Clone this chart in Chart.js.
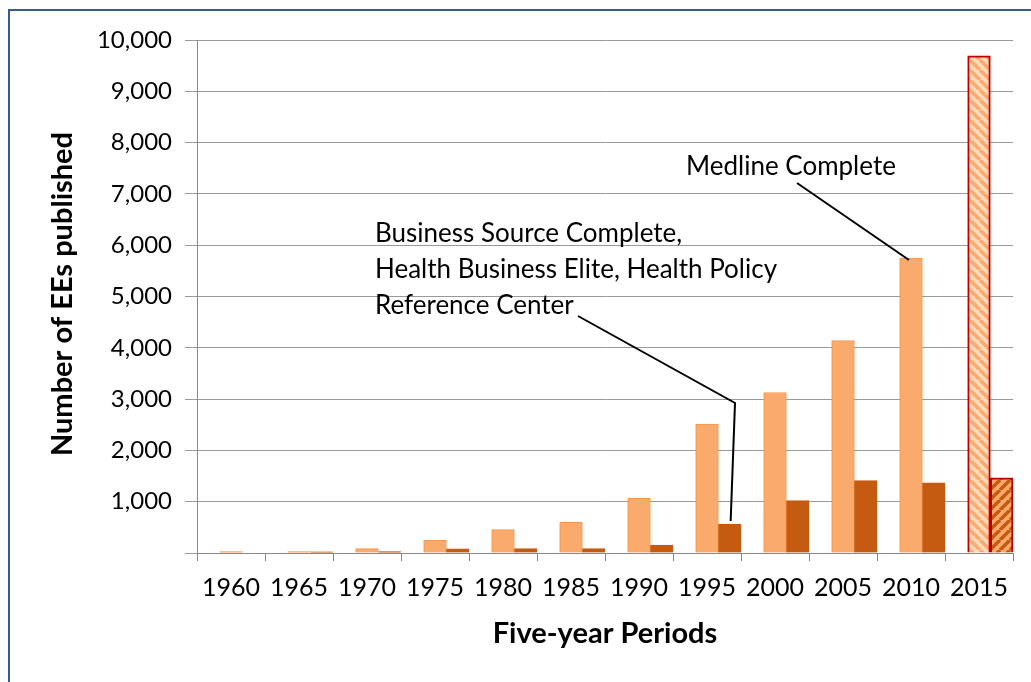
<!DOCTYPE html>
<html>
<head>
<meta charset="utf-8">
<script src="https://cdn.jsdelivr.net/npm/chart.js@4.4.0/dist/chart.umd.min.js"></script>
<style>
    html, body { margin: 0; padding: 0; background: #fff; overflow: hidden; }
    #wrap { position: relative; width: 1031px; height: 682px; }
    #frame { position: absolute; left: 8px; top: 9px; width: 1100px; height: 760px; border: 2px solid #385d8a; box-sizing: border-box; }
    canvas { position: absolute; left: 0; top: 0; }
</style>
</head>
<body>
<div id="wrap">
    <div id="frame"></div>
    <canvas id="chart" width="1031" height="682"></canvas>
</div>
<script>
// dados
const periods = ['1960', '1965', '1970', '1975', '1980', '1985', '1990', '1995', '2000', '2005', '2010', '2015'];
const medlineCounts = [27, 27, 86, 248, 456, 598, 1066, 2513, 3129, 4140, 5750, 9690];
const businessCounts = [0, 25, 27, 80, 86, 86, 156, 565, 1020, 1410, 1367, 1467];
const yTicks = [0, 1000, 2000, 3000, 4000, 5000, 6000, 7000, 8000, 9000, 10000];

const yTitle = 'Number of EEs published';
const xTitle = 'Five-year Periods';
const medlineNote = ['Medline Complete'];
const businessNote = ['Business Source Complete,', 'Health Business Elite, Health Policy', 'Reference Center'];

const LIGHT = '#fbaa6e';
const LIGHT_EDGE = '#f79646';
const DARK = '#c55a11';
const RED = '#c00000';
const FONT = 'Lato, "Open Sans", sans-serif';

// padrão hachurado para a última coluna (2015)
function makeHatch(bg, fg, downward) {
    const size = 10;
    const c = document.createElement('canvas');
    c.width = size;
    c.height = size;
    const g = c.getContext('2d');
    g.fillStyle = bg;
    g.fillRect(0, 0, size, size);
    g.strokeStyle = fg;
    g.lineWidth = 3.5;
    g.beginPath();
    for (let k = -1; k <= 1; k++) {
        if (downward) {
            g.moveTo(k * size, 0);
            g.lineTo(k * size + size, size);
        } else {
            g.moveTo(k * size, size);
            g.lineTo(k * size + size, 0);
        }
    }
    g.stroke();
    return g.createPattern(c, 'repeat');
}

const lightHatch = makeHatch('#fcd9bb', '#fbaa6e', true);
const darkHatch = makeHatch('#fbaa6e', DARK, false);

const last = periods.length - 1;
const lightBg = periods.map((p, i) => i === last ? lightHatch : LIGHT);
const lightBorder = periods.map((p, i) => i === last ? RED : LIGHT_EDGE);
const darkBg = periods.map((p, i) => i === last ? darkHatch : DARK);
const darkBorder = periods.map((p, i) => i === last ? RED : DARK);
const borderW = periods.map((p, i) => i === last ? 2 : 1);

// textos e linhas de chamada
const notesPlugin = {
    id: 'notes',
    afterDraw(chart) {
        const ctx = chart.ctx;
        const x = chart.scales.x;
        ctx.save();
        ctx.fillStyle = '#000';

        // títulos dos eixos
        ctx.font = 'bold 29px ' + FONT;
        ctx.textAlign = 'center';
        ctx.textBaseline = 'middle';
        ctx.fillText(xTitle, (x.left + x.right) / 2, 634);
        ctx.save();
        ctx.translate(63, 294);
        ctx.rotate(-Math.PI / 2);
        ctx.fillText(yTitle, 0, 0);
        ctx.restore();

        // anotações
        ctx.font = '26px ' + FONT;
        ctx.textAlign = 'left';
        ctx.textBaseline = 'middle';
        medlineNote.forEach((t, i) => ctx.fillText(t, 686, 167 + i * 36));
        businessNote.forEach((t, i) => ctx.fillText(t, 375, 234 + i * 36));

        ctx.strokeStyle = '#000';
        ctx.lineWidth = 2;
        const i2010 = periods.indexOf('2010');
        const i1995 = periods.indexOf('1995');
        const barM = chart.getDatasetMeta(1).data[i2010];
        const barB = chart.getDatasetMeta(2).data[i1995];
        ctx.beginPath();
        ctx.moveTo(797, 183);
        ctx.lineTo(barM.x - 2, barM.y + 2);
        ctx.stroke();
        ctx.beginPath();
        ctx.moveTo(578, 316);
        ctx.lineTo(735, 403);
        ctx.lineTo(barB.x + 1, barB.y - 3);
        ctx.stroke();
        ctx.restore();
    }
};

new Chart(document.getElementById('chart'), {
    type: 'bar',
    data: {
        labels: periods,
        datasets: [
            // série vazia que empurra as barras para a direita, como no original
            { data: periods.map(() => null), backgroundColor: 'rgba(0,0,0,0)' },
            { data: medlineCounts, backgroundColor: lightBg, borderColor: lightBorder, borderWidth: borderW },
            { data: businessCounts, backgroundColor: darkBg, borderColor: darkBorder, borderWidth: borderW }
        ]
    },
    options: {
        responsive: false,
        animation: false,
        events: [],
        layout: { padding: { top: 40, right: 18, left: 0, bottom: 0 } },
        plugins: { legend: { display: false }, tooltip: { enabled: false } },
        datasets: { bar: { categoryPercentage: 1, barPercentage: 1, borderSkipped: 'bottom' } },
        scales: {
            x: {
                grid: { offset: true, drawOnChartArea: false, drawTicks: true, tickLength: 8, color: '#888' },
                border: { color: '#888', width: 1 },
                ticks: { color: '#000', font: { family: FONT, size: 25 }, padding: 12, maxRotation: 0, autoSkip: false },
                afterFit(scale) { scale.height = 682 - 553; }
            },
            y: {
                min: 0,
                max: 10000,
                afterBuildTicks(scale) { scale.ticks = yTicks.map(v => ({ value: v })); },
                grid: { color: '#999', tickLength: 12, drawTicks: true },
                border: { color: '#888', width: 1 },
                ticks: {
                    color: '#000',
                    font: { family: FONT, size: 24 },
                    padding: 13,
                    callback: v => v === 0 ? '' : v.toLocaleString('en-US')
                },
                afterFit(scale) { scale.width = 197; }
            }
        }
    },
    plugins: [notesPlugin]
});
</script>
</body>
</html>
